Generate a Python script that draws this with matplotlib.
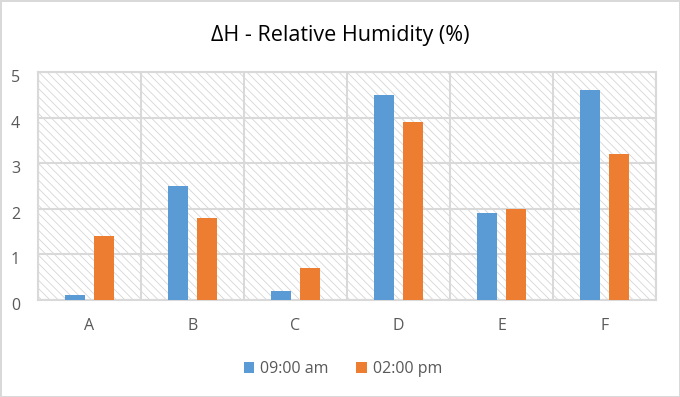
import matplotlib
matplotlib.use("Agg")
import matplotlib.pyplot as plt
import matplotlib.transforms as mtransforms
import numpy as np
from matplotlib.patches import Rectangle, Patch

categories = ["A", "B", "C", "D", "E", "F"]
series_names = ["09:00 am", "02:00 pm"]
am_values = [0.1, 2.5, 0.2, 4.5, 1.9, 4.6]
pm_values = [1.4, 1.8, 0.7, 3.9, 2.0, 3.2]
yticks = [0, 1, 2, 3, 4, 5]
title = "ΔH - Relative Humidity (%)"

plt.rcParams['font.family'] = ['Open Sans', 'DejaVu Sans']
plt.rcParams['hatch.linewidth'] = 0.6

blue = "#5b9bd5"
orange = "#ed7d31"
grid_c = "#d9d9d9"
text_c = "#595959"

fig = plt.figure(figsize=(6.8, 3.97), dpi=100)
fig.patch.set_facecolor("white")
fig.patch.set_edgecolor(grid_c)
fig.patch.set_linewidth(2)

ax = fig.add_axes([38/680, 1 - 300/397, (656-38)/680, (300-72)/397])
ax.set_facecolor("white")
ax.add_patch(Rectangle((0, 0), 1, 1, transform=ax.transAxes, facecolor="white",
                       edgecolor="#d6d6d6", hatch="\\\\\\\\", linewidth=0, zorder=0))

x = np.arange(len(categories))
w = 0.2
off = 0.14
ax.bar(x - off, am_values, width=w, color=blue, zorder=3)
ax.bar(x + off, pm_values, width=w, color=orange, zorder=3)

ax.set_xlim(-0.5, len(categories) - 0.5)
ax.set_ylim(0, 5)
ax.set_yticks(yticks)
ax.set_xticks(x)
ax.set_xticklabels(categories)
ax.set_xticks(np.arange(-0.5, len(categories), 1), minor=True)
ax.grid(True, axis="y", which="major", color=grid_c, linewidth=1.5, zorder=1)
ax.grid(True, axis="x", which="minor", color=grid_c, linewidth=1.5, zorder=1)
ax.grid(False, axis="x", which="major")
ax.tick_params(axis="both", which="both", length=0, colors=text_c, labelsize=11.5)
ax.tick_params(axis="y", pad=13)
ax.tick_params(axis="x", pad=13)
for s in ax.spines.values():
    s.set_color(grid_c)
    s.set_linewidth(1.5)

shift = mtransforms.ScaledTranslation(0, -4/100, fig.dpi_scale_trans)
for lbl in ax.get_yticklabels():
    lbl.set_transform(lbl.get_transform() + shift)

fig.text(0.5, 1 - 36/397, title, ha="center", va="center", fontsize=15.5, color="black")

handles = [Patch(facecolor=blue), Patch(facecolor=orange)]
fig.legend(handles, series_names, loc="center", bbox_to_anchor=(343/680, 1 - 369/397),
           ncol=2, frameon=False, fontsize=11.5, labelcolor=text_c,
           handlelength=0.65, handleheight=0.65, handletextpad=0.4, columnspacing=1.7)

fig.savefig("out.png", dpi=100)
